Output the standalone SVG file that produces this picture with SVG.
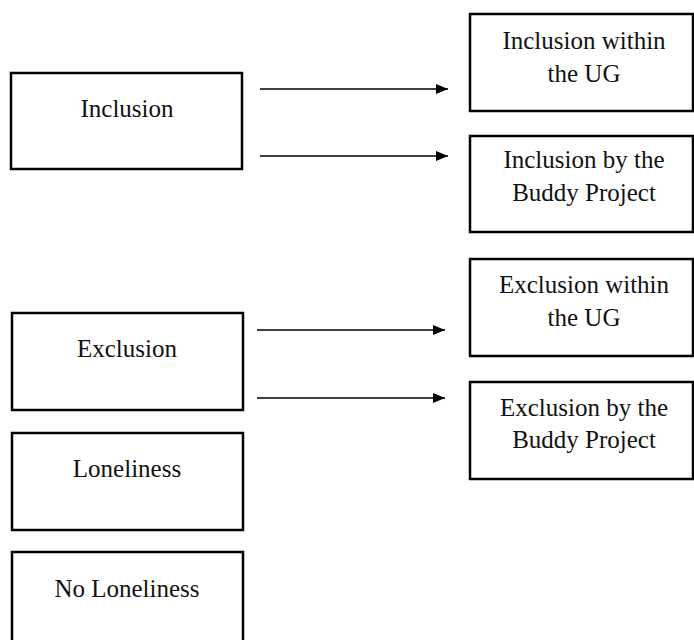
<svg xmlns="http://www.w3.org/2000/svg" width="694" height="640" viewBox="0 0 694 640">
<style>
.box{fill:#fff;stroke:#000;stroke-width:2.5}
.t{font-family:"Liberation Serif","Times New Roman",serif;font-size:25px;fill:#111;text-anchor:middle}
.c{stroke:#000;stroke-width:1.3;fill:none}
</style>
<defs>
<marker id="ah" markerWidth="12" markerHeight="10" refX="12" refY="5" orient="auto" markerUnits="userSpaceOnUse">
<path d="M0,0 L12,5 L0,10 Z" fill="#000"/>
</marker>
</defs>
<rect width="694" height="640" fill="#fff"/>
<g id="inclusion"><rect class="box" x="11" y="73" width="231" height="96"/><text class="t" x="127" y="117">Inclusion</text></g>
<g id="exclusion"><rect class="box" x="12" y="313" width="231" height="97"/><text class="t" x="127" y="357">Exclusion</text></g>
<g id="loneliness"><rect class="box" x="12" y="433" width="231" height="97"/><text class="t" x="127" y="477">Loneliness</text></g>
<g id="no-loneliness"><rect class="box" x="12" y="552" width="231" height="110"/><text class="t" x="127" y="597">No Loneliness</text></g>
<g id="inclusion-ug"><rect class="box" x="470" y="14" width="223" height="97"/><text class="t" x="584" y="49">Inclusion within</text><text class="t" x="584" y="82">the UG</text></g>
<g id="inclusion-buddy"><rect class="box" x="470" y="136" width="223" height="96"/><text class="t" x="584" y="168">Inclusion by the</text><text class="t" x="584" y="201">Buddy Project</text></g>
<g id="exclusion-ug"><rect class="box" x="470" y="259" width="223" height="97"/><text class="t" x="584" y="293">Exclusion within</text><text class="t" x="584" y="326">the UG</text></g>
<g id="exclusion-buddy"><rect class="box" x="470" y="382" width="223" height="97"/><text class="t" x="584" y="416">Exclusion by the</text><text class="t" x="584" y="448">Buddy Project</text></g>
<g id="connectors">
<line class="c" x1="260" y1="89" x2="448" y2="89" marker-end="url(#ah)"/>
<line class="c" x1="260" y1="156" x2="448" y2="156" marker-end="url(#ah)"/>
<line class="c" x1="257" y1="330" x2="445" y2="330" marker-end="url(#ah)"/>
<line class="c" x1="257" y1="398" x2="445" y2="398" marker-end="url(#ah)"/>
</g>
</svg>
